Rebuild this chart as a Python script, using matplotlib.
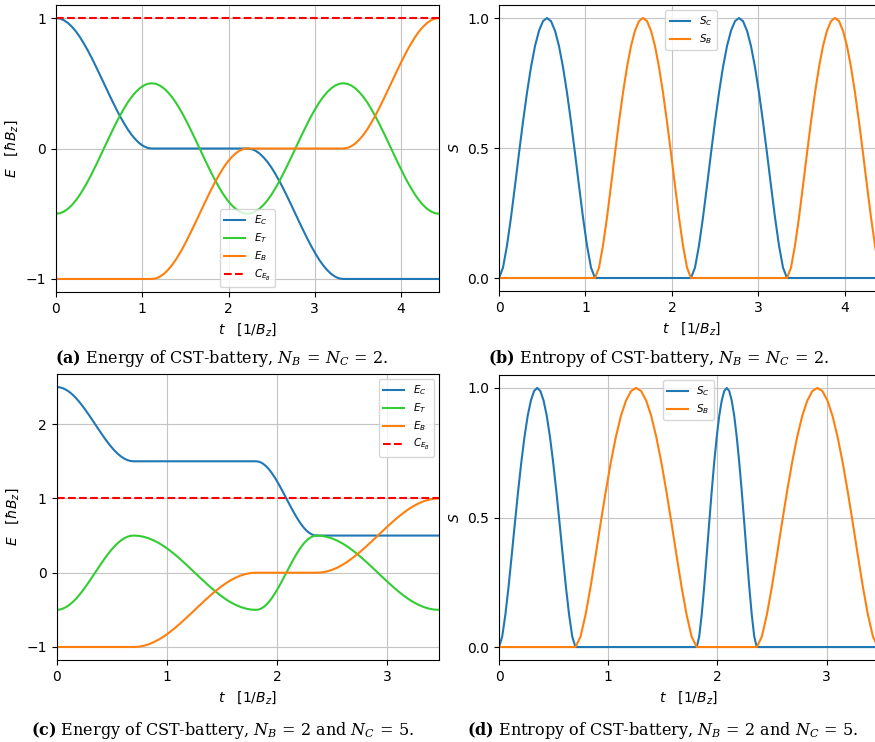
import numpy as np
import matplotlib.pyplot as plt
from matplotlib.ticker import MultipleLocator

# times where the curves change behaviour
bounds_ab = [0, 1.11, 2.22, 3.33, 4.44]
bounds_cd = [0, 0.70, 1.81, 2.36, 3.47]

# pieces of the energy curves, 24 samples per section
u01 = [.004, .017, .038, .067, .103, .146, .196, .25, .309, .371, .435, .5,
       .565, .629, .691, .75, .804, .854, .897, .933, .962, .983, .996, 1]
d10 = [.996, .983, .962, .933, .897, .854, .804, .75, .691, .629, .565, .5,
       .435, .371, .309, .25, .196, .146, .103, .067, .038, .017, .004, 0]
d0m = [-.004, -.017, -.038, -.067, -.103, -.146, -.196, -.25, -.309, -.371, -.435, -.5,
       -.565, -.629, -.691, -.75, -.804, -.854, -.897, -.933, -.962, -.983, -.996, -1]
um0 = [-.996, -.983, -.962, -.933, -.897, -.854, -.804, -.75, -.691, -.629, -.565, -.5,
       -.435, -.371, -.309, -.25, -.196, -.146, -.103, -.067, -.038, -.017, -.004, 0]
t_up = [-.496, -.483, -.462, -.433, -.397, -.354, -.304, -.25, -.191, -.129, -.065, 0,
        .065, .129, .191, .25, .304, .354, .397, .433, .462, .483, .496, .5]
t_dn = [.496, .483, .462, .433, .397, .354, .304, .25, .191, .129, .065, 0,
        -.065, -.129, -.191, -.25, -.304, -.354, -.397, -.433, -.462, -.483, -.496, -.5]
c_1 = [2.496, 2.483, 2.462, 2.433, 2.397, 2.354, 2.304, 2.25, 2.191, 2.129, 2.065, 2,
       1.935, 1.871, 1.809, 1.75, 1.696, 1.646, 1.603, 1.567, 1.538, 1.517, 1.504, 1.5]
c_2 = [1.496, 1.483, 1.462, 1.433, 1.397, 1.354, 1.304, 1.25, 1.191, 1.129, 1.065, 1,
       .935, .871, .809, .75, .696, .646, .603, .567, .538, .517, .504, .5]

E_C_a = [1] + d10 + [0] * 24 + d0m + [-1] * 24
E_T_a = [-.5] + t_up + t_dn + t_up + t_dn
E_B_a = [-1] + [-1] * 24 + um0 + [0] * 24 + u01
C_EB_a = 1

E_C_c = [2.5] + c_1 + [1.5] * 24 + c_2 + [.5] * 24
E_T_c = [-.5] + t_up + t_dn + t_up + t_dn
E_B_c = [-1] + [-1] * 24 + um0 + [0] * 24 + u01
C_EB_c = 1

# entropies, 24 samples per section
bump = [.04, .125, .233, .355, .48, .601, .713, .811, .892, .951, .988, 1,
        .988, .951, .892, .811, .713, .601, .48, .355, .233, .125, .04, 0]
S_C_b = [0] + bump + [0] * 24 + bump + [0] * 24
S_B_b = [0] + [0] * 24 + bump + [0] * 24 + bump
S_C_d = [0] + bump + [0] * 24 + bump + [0] * 24
S_B_d = [0] + [0] * 24 + bump + [0] * 24 + bump


def grid(bounds, n):
    pieces = [np.linspace(a, b, n + 1)[1:] for a, b in zip(bounds[:-1], bounds[1:])]
    return np.concatenate([[bounds[0]]] + pieces)


W, H = 875, 742
fig = plt.figure(figsize=(W / 100, H / 100), dpi=100)


def box(l, t, r, b):
    return [l / W, (H - b) / H, (r - l) / W, (b - t) / H]


ax_a = fig.add_axes(box(56, 5, 439, 292))
ax_b = fig.add_axes(box(499, 5, 883, 291))
ax_c = fig.add_axes(box(56.5, 374, 439, 660))
ax_d = fig.add_axes(box(499, 375, 878, 660))

fs = 10
green = "limegreen"


def common(ax, bounds):
    ax.set_xlim(bounds[0], bounds[-1])
    ax.xaxis.set_major_locator(MultipleLocator(1))
    ax.set_xlabel(r"$t$   $[1/B_z]$", fontsize=fs)
    ax.grid(True, color="#c4c4c4")
    ax.tick_params(labelsize=fs)


def energy(ax, bounds, ec, et, eb, c, loc):
    t = grid(bounds, 24)
    ax.plot(t, ec, color="tab:blue", label="$E_C$")
    ax.plot(t, et, color=green, label="$E_T$")
    ax.plot(t, eb, color="tab:orange", label="$E_B$")
    ax.plot([bounds[0], bounds[-1]], [c, c], "--", color="red", label="$C_{E_B}$")
    ax.set_ylabel(r"$E$   $[\hbar B_z]$", fontsize=fs)
    common(ax, bounds)
    ax.legend(loc=loc, fontsize=7.5, labelspacing=0.4)


def entropy(ax, bounds, sc, sb):
    t = grid(bounds, 24)
    ax.plot(t, sc, color="tab:blue", label="$S_C$")
    ax.plot(t, sb, color="tab:orange", label="$S_B$")
    ax.set_yticks([0, 0.5, 1.0])
    ax.set_ylabel("$S$", fontsize=fs)
    common(ax, bounds)
    ax.legend(loc="upper center", fontsize=7.5, labelspacing=0.4)


energy(ax_a, bounds_ab, E_C_a, E_T_a, E_B_a, C_EB_a, "lower center")
energy(ax_c, bounds_cd, E_C_c, E_T_c, E_B_c, C_EB_c, "upper right")
entropy(ax_b, bounds_ab, S_C_b, S_B_b)
entropy(ax_d, bounds_cd, S_C_d, S_B_d)
ax_a.set_yticks([-1, 0, 1])
ax_c.set_yticks([-1, 0, 1, 2])

captions = [
    (222, 363, r"$\mathbf{(a)}$ Energy of CST-battery, $N_B\,=\,N_C\,=\,2$."),
    (658, 363, r"$\mathbf{(b)}$ Entropy of CST-battery, $N_B\,=\,N_C\,=\,2$."),
    (223, 735, r"$\mathbf{(c)}$ Energy of CST-battery, $N_B\,=\,2$ and $N_C\,=\,5$."),
    (663, 735, r"$\mathbf{(d)}$ Entropy of CST-battery, $N_B\,=\,2$ and $N_C\,=\,5$."),
]
for x, y, s in captions:
    fig.text(x / W, (H - y) / H, s, ha="center", va="baseline", fontsize=11.5,
             family="DejaVu Serif", math_fontfamily="dejavuserif")

fig.savefig("out.png", dpi=100)
